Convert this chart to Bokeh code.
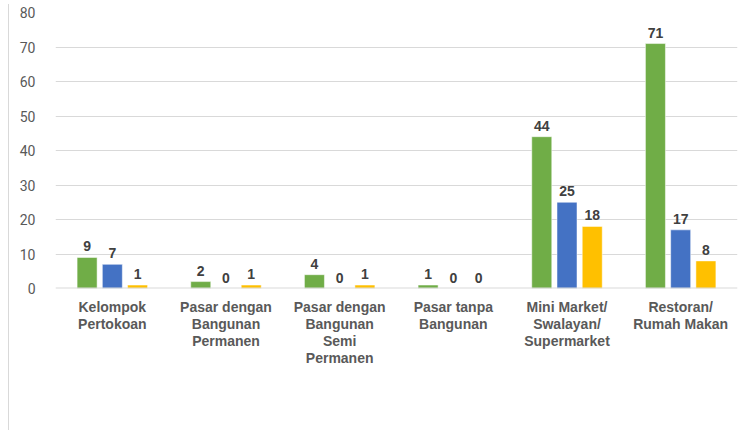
from bokeh.plotting import figure
from bokeh.models import (ColumnDataSource, Legend, LegendItem, FixedTicker,
                          Span, LinearAxis, Range1d)
from bokeh.transform import dodge
from bokeh.core.properties import value
from bokeh.embed import file_html
from bokeh.resources import INLINE

categories = ["Kelompok Pertokoan", "Pasar dengan Bangunan Permanen",
              "Pasar dengan Bangunan Semi Permanen", "Pasar tanpa Bangunan",
              "Mini Market/ Swalayan/ Supermarket", "Restoran/ Rumah Makan"]
tick_labels = [["Kelompok", "Pertokoan"], ["Pasar dengan", "Bangunan", "Permanen"],
               ["Pasar dengan", "Bangunan", "Semi", "Permanen"], ["Pasar tanpa", "Bangunan"],
               ["Mini Market/", "Swalayan/", "Supermarket"], ["Restoran/", "Rumah Makan"]]
series = ["Batu", "Junrejo", "Bumiaji"]
batu = [9, 2, 4, 1, 44, 71]
junrejo = [7, 0, 0, 0, 25, 17]
bumiaji = [1, 1, 1, 0, 18, 8]
y_ticks = [0, 10, 20, 30, 40, 50, 60, 70, 80]

colors = ["#70AD47", "#4472C4", "#FFC000"]
offsets = [-0.222, 0.0, 0.222]

idx = list(range(len(categories)))
src = ColumnDataSource(dict(cat=categories, idx=idx, Batu=batu, Junrejo=junrejo, Bumiaji=bumiaji,
                            Batu_t=[str(v) for v in batu],
                            Junrejo_t=[str(v) for v in junrejo],
                            Bumiaji_t=[str(v) for v in bumiaji]))

p = figure(x_range=Range1d(-0.5, len(categories) - 0.5), y_range=(0, 80),
           frame_width=682, frame_height=276,
           output_backend="svg", toolbar_location=None, x_axis_location=None,
           min_border_left=46, min_border_right=8, min_border_top=8, min_border_bottom=0)
p.margin = (4, 8, 0, 8)
p.outline_line_color = None
p.styles = {"border-left": "1px solid #D9D9D9"}

items = []
for s, c, off in zip(series, colors, offsets):
    r = p.vbar(x=dodge("idx", off), top=s, width=0.176, source=src,
               fill_color=c, line_color="white", line_width=0.5)
    p.text(x=dodge("idx", off), y=s, text=s + "_t", source=src,
           text_align="center", text_baseline="bottom", y_offset=-6,
           text_font=value("Liberation Sans"), text_font_style="bold",
           text_font_size="14px", text_color="#404040")
    items.append(LegendItem(label=s, renderers=[r]))

p.xgrid.grid_line_color = None
p.ygrid.grid_line_color = "#D9D9D9"
p.ygrid.grid_line_width = 1
p.add_layout(Span(location=0, dimension="width", line_color="#D9D9D9", line_width=2))

p.yaxis.ticker = FixedTicker(ticks=y_ticks)
p.yaxis.axis_line_color = None
p.yaxis.major_tick_line_color = None
p.yaxis.minor_tick_line_color = None
p.yaxis.major_label_text_font = "Roboto"
p.yaxis.major_label_text_font_size = "14px"
p.yaxis.major_label_text_color = "#595959"
p.yaxis.major_label_standoff = 14

# wrapped category labels: one axis per text line
n_lines = max(len(t) for t in tick_labels)
for j in range(n_lines):
    overrides = {i: (lines[j] if j < len(lines) else " ")
                 for i, lines in enumerate(tick_labels)}
    ax = LinearAxis(ticker=FixedTicker(ticks=idx),
                    major_label_overrides=overrides,
                    axis_line_color=None, major_tick_line_color=None,
                    minor_tick_line_color=None, major_tick_out=0, major_tick_in=0,
                    minor_tick_out=0, minor_tick_in=0,
                    major_label_standoff=(10 if j == 0 else -2),
                    major_label_text_font="Liberation Sans",
                    major_label_text_font_style="bold",
                    major_label_text_font_size="14px",
                    major_label_text_color="#595959")
    p.add_layout(ax, "below")

legend = Legend(items=items, orientation="horizontal", location="center",
                label_text_font="Liberation Sans", label_text_font_style="bold",
                label_text_font_size="18px", label_text_color="#595959",
                glyph_width=12, glyph_height=12, spacing=18, label_standoff=4,
                border_line_color=None, background_fill_alpha=0, padding=0, margin=0)
p.add_layout(legend, "below")

open("out.html", "w").write(file_html(p, INLINE))
